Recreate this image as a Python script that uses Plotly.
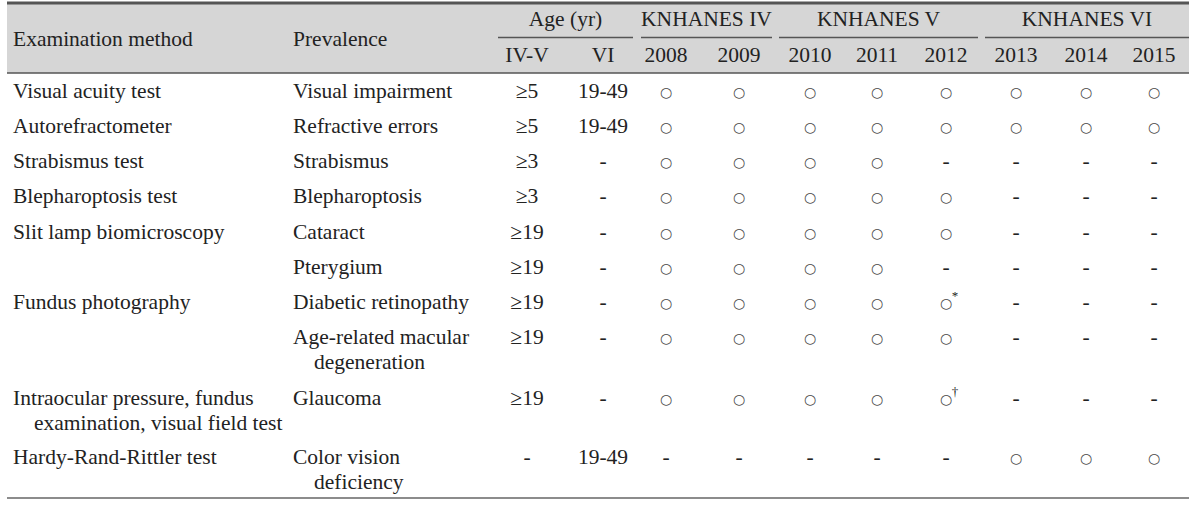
import plotly.graph_objects as go

# ---- table content ----
methods = ["Visual acuity test", "Autorefractometer", "Strabismus test",
           "Blepharoptosis test", "Slit lamp biomicroscopy", "",
           "Fundus photography", "",
           "Intraocular pressure, fundus\nexamination, visual field test",
           "Hardy-Rand-Rittler test"]
prevalence = ["Visual impairment", "Refractive errors", "Strabismus",
              "Blepharoptosis", "Cataract", "Pterygium", "Diabetic retinopathy",
              "Age-related macular\ndegeneration", "Glaucoma",
              "Color vision\ndeficiency"]
age_iv_v = ["≥5", "≥5", "≥3", "≥3", "≥19", "≥19", "≥19", "≥19", "≥19", "-"]
age_vi = ["19-49", "19-49", "-", "-", "-", "-", "-", "-", "-", "19-49"]
years = ["2008", "2009", "2010", "2011", "2012", "2013", "2014", "2015"]
# o = examined, - = not examined, o* / o† = examined with footnote
marks = [
    ["o", "o", "o", "o", "o", "o", "o", "o"],
    ["o", "o", "o", "o", "o", "o", "o", "o"],
    ["o", "o", "o", "o", "-", "-", "-", "-"],
    ["o", "o", "o", "o", "o", "-", "-", "-"],
    ["o", "o", "o", "o", "o", "-", "-", "-"],
    ["o", "o", "o", "o", "-", "-", "-", "-"],
    ["o", "o", "o", "o", "o*", "-", "-", "-"],
    ["o", "o", "o", "o", "o", "-", "-", "-"],
    ["o", "o", "o", "o", "o†", "-", "-", "-"],
    ["-", "-", "-", "-", "-", "o", "o", "o"],
]
groups = ["Age (yr)", "KNHANES IV", "KNHANES V", "KNHANES VI"]
subheads = ["IV-V", "VI"] + years

# ---- layout geometry ----
W, H = 1200, 505
LEFT, RIGHT = 7, 1189
x_method, x_prev = 13, 293
indent = 21
col_x = [527, 603, 666, 739, 810, 877, 946, 1016, 1086, 1154]
group_span = [(498, 633), (641, 772), (779, 978), (985, 1189)]
row_y = [93, 128, 163, 198, 234, 269, 304, 339, 400, 459]
line_gap = 25
head_y1, head_y2, head_mid = 21, 57, 41

FONT = "Liberation Serif"
TXT = "#222222"
FS = 21.5

lx, ly, lt = [], [], []
cx, cy, ct = [], [], []
sx, sy, st = [], [], []
ox, oy = [], []


def add_left(x, y, s):
    for i, part in enumerate(s.split("\n")):
        if part:
            lx.append(x + (indent if i else 0))
            ly.append(y + i * line_gap)
            lt.append(part)


add_left(x_method, head_mid, "Examination method")
add_left(x_prev, head_mid, "Prevalence")
for (a, b), g in zip(group_span, groups):
    cx.append((a + b) / 2); cy.append(head_y1); ct.append(g)
for x, s in zip(col_x, subheads):
    cx.append(x); cy.append(head_y2); ct.append(s)

for r, y in enumerate(row_y):
    add_left(x_method, y, methods[r])
    add_left(x_prev, y, prevalence[r])
    for x, s in zip(col_x[:2], [age_iv_v[r], age_vi[r]]):
        cx.append(x); cy.append(y); ct.append(s)
    for x, m in zip(col_x[2:], marks[r]):
        if m.startswith("o"):
            ox.append(x); oy.append(y)
            if len(m) > 1:
                sx.append(x + 9); sy.append(y - 7); st.append(m[1:])
        else:
            cx.append(x); cy.append(y); ct.append(m)

fig = go.Figure()
fig.add_trace(go.Scatter(x=lx, y=ly, text=lt, mode="text", textposition="middle right",
                         textfont=dict(family=FONT, size=FS, color=TXT), hoverinfo="skip"))
fig.add_trace(go.Scatter(x=cx, y=cy, text=ct, mode="text", textposition="middle center",
                         textfont=dict(family=FONT, size=FS, color=TXT), hoverinfo="skip"))
fig.add_trace(go.Scatter(x=ox, y=oy, text=["○"] * len(ox), mode="text",
                         textposition="middle center",
                         textfont=dict(family="DejaVu Sans", size=14, color="#4a4a4a"),
                         hoverinfo="skip"))
fig.add_trace(go.Scatter(x=sx, y=sy, text=st, mode="text", textposition="middle center",
                         textfont=dict(family=FONT, size=13, color=TXT), hoverinfo="skip"))

shapes = [
    dict(type="rect", x0=LEFT, x1=RIGHT, y0=3, y1=73, fillcolor="#d6d6d6",
         line=dict(width=0), layer="below"),
    dict(type="line", x0=LEFT, x1=RIGHT, y0=3, y1=3, line=dict(color="#555555", width=3)),
    dict(type="line", x0=LEFT, x1=RIGHT, y0=73, y1=73, line=dict(color="#555555", width=1.5)),
    dict(type="line", x0=LEFT, x1=RIGHT, y0=498, y1=498, line=dict(color="#666666", width=1.5)),
]
for a, b in group_span:
    shapes.append(dict(type="line", x0=a, x1=b, y0=37.5, y1=37.5,
                       line=dict(color="#555555", width=1.5)))

fig.update_layout(
    width=W, height=H, margin=dict(l=0, r=0, t=0, b=0),
    paper_bgcolor="white", plot_bgcolor="white", showlegend=False,
    xaxis=dict(range=[0, W], visible=False, fixedrange=True),
    yaxis=dict(range=[H, 0], visible=False, fixedrange=True),
    shapes=shapes,
)
# drop the page's default body margin so the table sits at the window edge
fig.write_html("out.html", config={"displayModeBar": False},
               post_script="document.body.style.margin='0';")
